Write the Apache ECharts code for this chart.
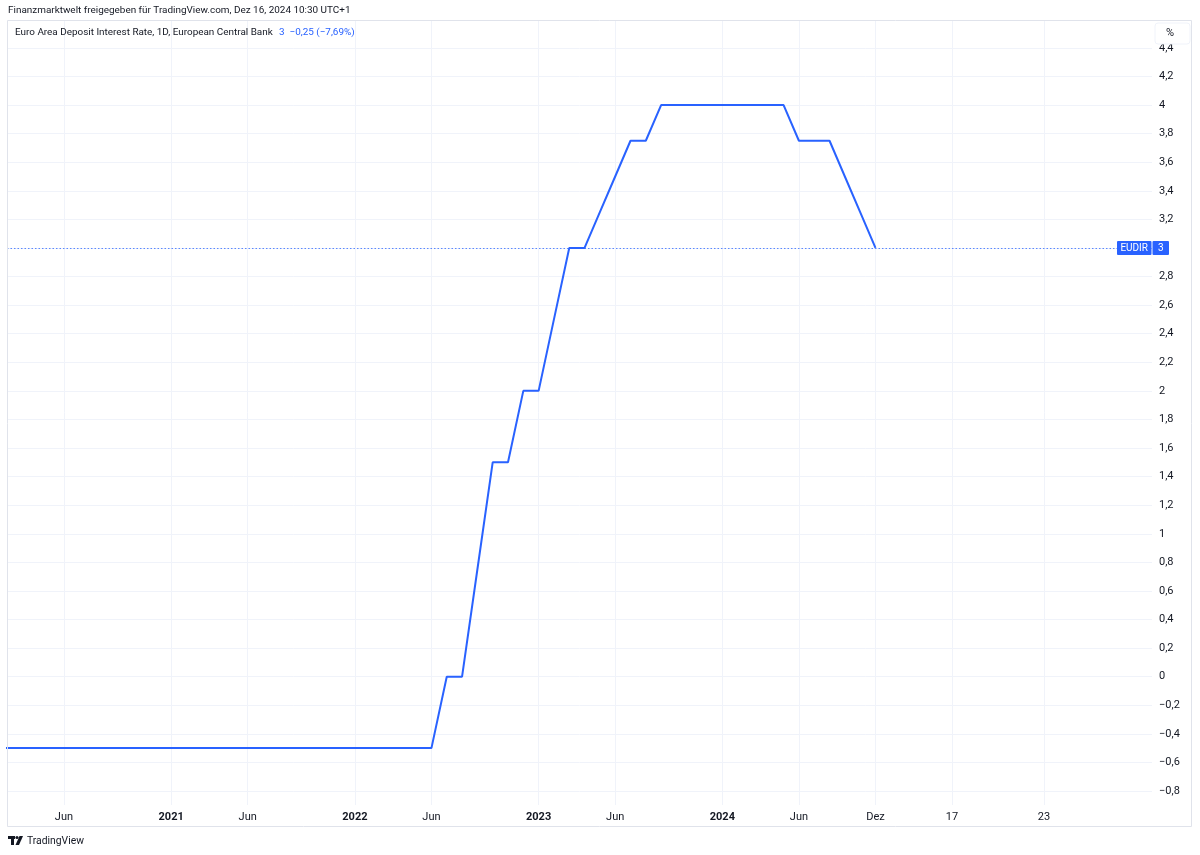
<!DOCTYPE html>
<html><head><meta charset="utf-8">
<script src="https://cdn.jsdelivr.net/npm/echarts@6/dist/echarts.min.js"></script>
<style>html,body{margin:0;padding:0;background:#fff}#c{width:1200px;height:855px}</style>
</head><body><div id="c"></div>
<script>
// Monthly bars Feb 2020 .. Oct 2024, then Dec 2024 (TradingView bar sequence)
const rates = [
  -0.5,-0.5,-0.5,-0.5,-0.5,-0.5,-0.5,-0.5,-0.5,-0.5,   // 2020-02 .. 2020-11
  -0.5,-0.5,-0.5,-0.5,-0.5,-0.5,-0.5,-0.5,-0.5,-0.5,   // 2020-12 .. 2021-09
  -0.5,-0.5,-0.5,-0.5,-0.5,-0.5,-0.5,-0.5,-0.5,        // 2021-10 .. 2022-06
  0, 0, 0.75, 1.5, 1.5, 2.0,                           // 2022-07 .. 2022-12
  2.0, 2.5, 3.0, 3.0, 3.25, 3.5, 3.75, 3.75, 4.0, 4.0, 4.0, 4.0, // 2023
  4.0, 4.0, 4.0, 4.0, 4.0, 3.75, 3.75, 3.75, 3.5, 3.25, // 2024-01 .. 2024-10
  3.0                                                  // 2024-12
];
const lastValue = 3;
const yTicks = [-0.8,-0.6,-0.4,-0.2,0,0.2,0.4,0.6,0.8,1,1.2,1.4,1.6,1.8,2,2.2,2.4,2.6,2.8,3,3.2,3.4,3.6,3.8,4,4.2,4.4];
const xTicks = [
  ['2020-06','Jun'],['2021-01','2021'],['2021-06','Jun'],['2022-01','2022'],['2022-06','Jun'],
  ['2023-01','2023'],['2023-06','Jun'],['2024-01','2024'],['2024-06','Jun'],['2024-12','Dez'],
  ['2024-12-17','17'],['2024-12-23','23']
];
const titleText = 'Finanzmarktwelt freigegeben für TradingView.com, Dez 16, 2024 10:30 UTC+1';
const legendName = 'Euro Area Deposit Interest Rate, 1D, European Central Bank';
const legendValue = '3  \u22120,25 (\u22127,69%)';

// bar keys: the monthly bars, then the future daily slots
const barKeys = [];
for (let y = 2020, m = 2; !(y === 2024 && m === 11); ) {
  barKeys.push(y + '-' + String(m).padStart(2,'0'));
  m++; if (m > 12) { m = 1; y++; }
}
barKeys.push('2024-12');
for (let d = 13; d <= 31; d++) barKeys.push('2024-12-' + d);

const tickPos = xTicks.map(t => barKeys.indexOf(t[0]));
const tickLabel = {};
xTicks.forEach((t, i) => { tickLabel[tickPos[i]] = t[1]; });

const fmtY = v => String(Number(v.toFixed(1))).replace('.', ',').replace('-', '\u2212');

const FAM = 'Roboto, "Noto Sans", sans-serif';
const TXT = '#131722';
const GRIDC = '#f0f3fa';
const BLUE = '#2962ff';

// pick a font size so a text spans a given width (matches the screenshot's text extents)
const mctx = document.createElement('canvas').getContext('2d');
function fitSize(text, width, weight) {
  mctx.font = (weight || '') + ' 20px ' + FAM;
  return 20 * width / mctx.measureText(text).width;
}
const titleSize = fitSize(titleText, 343);
const legendSize = fitSize(legendName, 258);
const logoSize = fitSize('TradingView', 57);

const option = {
  animation: false,
  backgroundColor: '#ffffff',
  textStyle: { fontFamily: FAM },
  grid: { left: 7, right: 48, top: 20, bottom: 50, containLabel: false },
  xAxis: {
    type: 'value',
    min: 0.28, max: 75.06,
    axisLine: { show: false },
    axisTick: { show: false, customValues: tickPos },
    splitLine: { show: true, lineStyle: { color: GRIDC, width: 1 } },
    axisLabel: {
      customValues: tickPos,
      margin: 7,
      fontSize: 11,
      color: TXT,
      fontFamily: FAM,
      formatter: v => {
        const l = tickLabel[Math.round(v)] || '';
        return /^\d{4}$/.test(l) ? '{b|' + l + '}' : l;
      },
      rich: { b: { fontWeight: 'bold', fontSize: 11, color: TXT, fontFamily: FAM } }
    }
  },
  yAxis: {
    type: 'value',
    position: 'right',
    min: -0.898, max: 4.595,
    axisLine: { show: false },
    axisTick: { show: false, customValues: yTicks },
    splitLine: { show: true, lineStyle: { color: GRIDC, width: 1 } },
    axisLabel: {
      customValues: yTicks,
      margin: 7,
      fontSize: 11,
      color: TXT,
      fontFamily: FAM,
      formatter: fmtY
    }
  },
  series: [{
    type: 'line',
    data: rates.map((v, i) => [i, v]),
    showSymbol: false,
    symbol: 'none',
    lineStyle: { color: BLUE, width: 2 },
    clip: true,
    z: 5,
    markLine: {
      silent: true,
      symbol: 'none',
      label: { show: false },
      emphasis: { disabled: true },
      lineStyle: { color: '#4a7cff', type: [1.5, 2], width: 1, opacity: 0.9 },
      data: [{ yAxis: lastValue }]
    }
  }]
};

const chart = echarts.init(document.getElementById('c'), null, { renderer: 'canvas' });
chart.setOption(option);

const yTag = chart.convertToPixel({ yAxisIndex: 0 }, lastValue);

chart.setOption({
  graphic: [
    // outer frame
    { type: 'rect', z: 50, silent: true, shape: { x: 7.5, y: 20.5, width: 1184, height: 806 },
      style: { fill: null, stroke: '#e0e3eb', lineWidth: 1 } },
    // title
    { type: 'text', z: 50, x: 8, y: 11, style: { text: titleText, font: titleSize.toFixed(2) + 'px ' + FAM, fill: TXT, textVerticalAlign: 'middle' } },
    // legend
    { type: 'text', z: 50, x: 15, y: 33, style: { text: legendName, font: legendSize.toFixed(2) + 'px ' + FAM, fill: TXT, textVerticalAlign: 'middle' } },
    { type: 'text', z: 50, x: 279, y: 33, style: { text: legendValue, font: legendSize.toFixed(2) + 'px ' + FAM, fill: BLUE, textVerticalAlign: 'middle' } },
    // % box
    { type: 'rect', z: 60, shape: { x: 1155, y: 23, width: 35, height: 21, r: 3 },
      style: { fill: '#ffffff', stroke: '#f0f3fa', lineWidth: 1 } },
    { type: 'text', z: 61, x: 1166, y: 33.5, style: { text: '%', font: '11px ' + FAM, fill: TXT, textVerticalAlign: 'middle' } },
    // last value tag
    { type: 'rect', z: 60, shape: { x: 1117, y: yTag - 7, width: 34.5, height: 14, r: 1 }, style: { fill: BLUE } },
    { type: 'rect', z: 60, shape: { x: 1152.5, y: yTag - 7, width: 16.5, height: 14, r: 1 }, style: { fill: BLUE } },
    { type: 'text', z: 61, x: 1134.2, y: yTag + 0.5, style: { text: 'EUDIR', font: '10px ' + FAM, fill: '#ffffff', textAlign: 'center', textVerticalAlign: 'middle' } },
    { type: 'text', z: 61, x: 1160.7, y: yTag + 0.5, style: { text: String(lastValue), font: '10px ' + FAM, fill: '#ffffff', textAlign: 'center', textVerticalAlign: 'middle' } },
    // TradingView logo
    { type: 'rect', z: 50, shape: { x: 8, y: 836, width: 7, height: 3 }, style: { fill: TXT } },
    { type: 'rect', z: 50, shape: { x: 11, y: 836, width: 3, height: 9 }, style: { fill: TXT } },
    { type: 'circle', z: 50, shape: { cx: 17, cy: 837.5, r: 1.6 }, style: { fill: TXT } },
    { type: 'polygon', z: 50, shape: { points: [[19.5,836],[23,836],[19,845],[15.5,845]] }, style: { fill: TXT } },
    { type: 'text', z: 50, x: 27, y: 841, style: { text: 'TradingView', font: logoSize.toFixed(2) + 'px ' + FAM, fill: TXT, textVerticalAlign: 'middle' } }
  ]
});
</script>
</body></html>
